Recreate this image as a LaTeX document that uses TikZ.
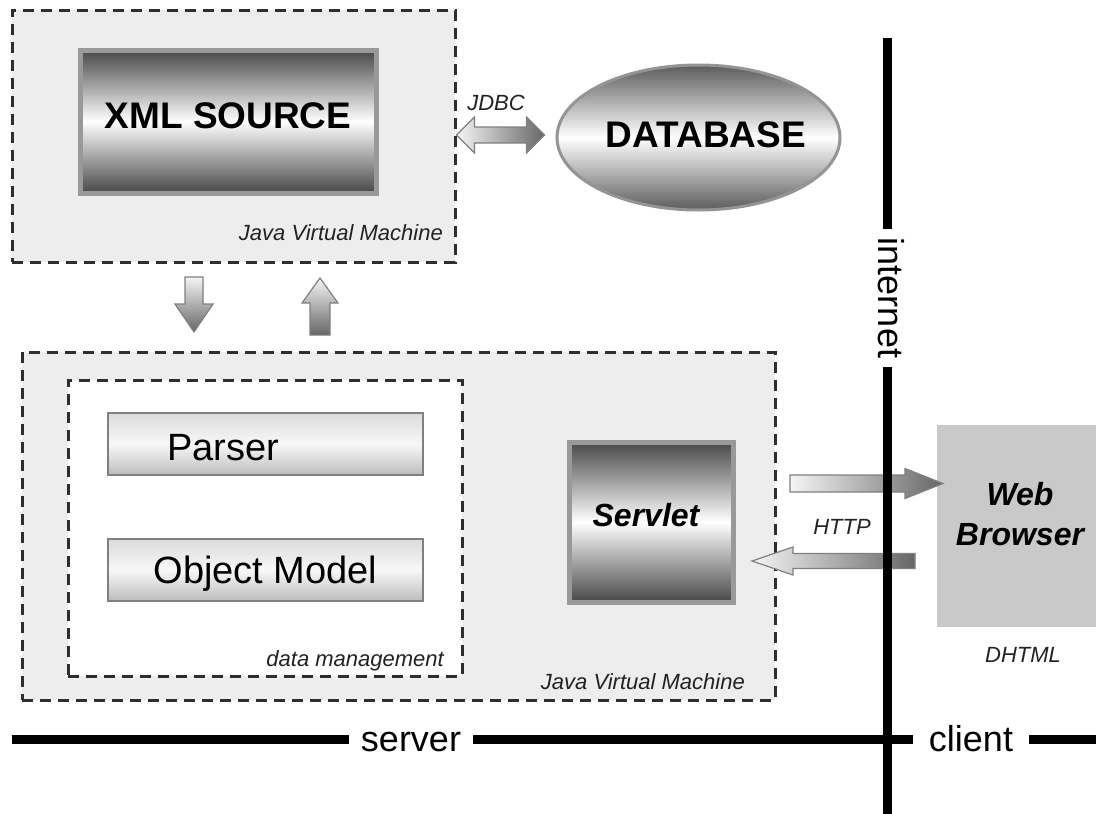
\documentclass[tikz,border=0pt]{standalone}
\usepackage{fontspec}
\setmainfont{Liberation Sans}
\usetikzlibrary{shapes.geometric,calc}

\definecolor{panel}{HTML}{EDEDED}
\definecolor{dashink}{HTML}{2E2E2E}
\definecolor{browsergray}{HTML}{C9C9C9}
\definecolor{labelink}{HTML}{222222}

\tikzset{
  jvmbox/.style={draw=dashink, line width=3pt, dash pattern=on 11pt off 7pt, fill=panel, inner sep=0pt},
  groupbox/.style={jvmbox, fill=white},
  chrome/.style={draw=black!40, line width=5pt, top color=black!72, bottom color=black!72, middle color=white, inner sep=0pt},
  bar/.style={draw=black!50, line width=1.5pt, top color=black!14, bottom color=black!26, middle color=black!3, inner sep=0pt, text depth=0pt, font=\fontsize{38}{44}\selectfont},
  dbshape/.style={ellipse, draw=black!42, line width=3pt, top color=black!64, bottom color=black!64, middle color=white, inner sep=0pt},
  bigbold/.style={font=\fontsize{37}{44}\selectfont\bfseries, inner sep=0pt},
  plainbig/.style={font=\fontsize{38}{44}\selectfont, inner sep=0pt},
  boldital/.style={font=\fontsize{32}{40}\selectfont\bfseries\itshape, inner sep=0pt},
  ital/.style={font=\fontsize{22}{26}\selectfont\itshape, text=labelink, inner sep=0pt},
  divider/.style={line width=9pt, black},
  gap/.style={fill=white, font=\fontsize{36}{42}\selectfont, inner ysep=2pt},
  blockarrow/.style={draw=black!50, line width=1.2pt, line join=miter},
  shadeLR/.style={left color=black!4, right color=black!60},
  shadeTB/.style={top color=black!4, bottom color=black!60},
  % horizontal block arrow: length, shaft half width, head half width, head length, look
  pics/hblock/.style n args={5}{code={
    \path[blockarrow,#5] (0,{-(#2)}) -- ({(#1)-(#4)},{-(#2)}) -- ({(#1)-(#4)},{-(#3)})
      -- (#1,0) -- ({(#1)-(#4)},{#3}) -- ({(#1)-(#4)},{#2}) -- (0,{#2}) -- cycle;}},
  % vertical block arrow (positive length points down)
  pics/vblock/.style n args={5}{code={
    \path[blockarrow,#5] ({-(#2)},0) -- ({-(#2)},{(#1)-(#4)}) -- ({-(#3)},{(#1)-(#4)})
      -- (0,#1) -- ({#3},{(#1)-(#4)}) -- ({#2},{(#1)-(#4)}) -- ({#2},0) -- cycle;}},
  % double-headed horizontal block arrow
  pics/dblock/.style n args={5}{code={
    \path[blockarrow,#5] (0,0) -- (#4,{-(#3)}) -- (#4,{-(#2)}) -- ({(#1)-(#4)},{-(#2)})
      -- ({(#1)-(#4)},{-(#3)}) -- (#1,0) -- ({(#1)-(#4)},{#3}) -- ({(#1)-(#4)},{#2})
      -- (#4,{#2}) -- (#4,{#3}) -- cycle;}}
}

\begin{document}
\begin{tikzpicture}[x=1pt,y=-1pt]
\useasboundingbox (0,0) rectangle (1096,814);
\fill[white] (0,0) rectangle (1096,814);

% ---- upper virtual machine with the XML source
\node[jvmbox, minimum width=443pt, minimum height=252pt] (jvmA) at (233.5,136) {};
\node[ital, anchor=base east] (jvmAlbl) at (443,240) {Java Virtual Machine};
\node[chrome, minimum width=296pt, minimum height=143pt] (xml) at (228,121.5) {};
\node[bigbold] (xmllbl) at (228,116) {XML SOURCE};

% ---- database reached over JDBC
\node[dbshape, minimum width=283pt, minimum height=145pt] (db) at (698.5,137.5) {};
\node[bigbold] (dblbl) at (706,135) {DATABASE};
\node[ital] (jdbclbl) at (496,103) {JDBC};
\coordinate (jdbcL) at (jvmA.east |- db.center);
\pic at ($(jdbcL)+(0,-2.5)$) {dblock={88}{8}{18}{18}{shadeLR}};

% ---- exchange between the two virtual machines
\coordinate (downTail) at (194,277);
\coordinate (upTail) at (320,335);
\pic at (downTail) {vblock={55}{9}{19}{28}{shadeTB}};
\pic at (upTail) {vblock={-57}{10}{18}{-25}{shadeTB}};

% ---- lower virtual machine
\node[jvmbox, minimum width=753pt, minimum height=348pt] (jvmB) at (398.5,526) {};
\node[ital, anchor=base east] (jvmBlbl) at (745,689) {Java Virtual Machine};
\node[groupbox, minimum width=394pt, minimum height=296pt] (mgmt) at (265,528) {};
\node[ital, anchor=base east] (mgmtlbl) at (444,666) {data management};
\node[bar, minimum width=315pt, minimum height=62pt] (parser) at (265.5,444) {};
\node[plainbig, anchor=base west] (parserlbl) at (167,460) {Parser};
\node[bar, text height=27pt, minimum width=315pt, minimum height=62pt] (objmodel) at (265.5,570) {Object Model};
\node[chrome, minimum width=164pt, minimum height=160pt] (servlet) at (651,522) {};
\node[boldital] (servletlbl) at (646,515) {Servlet};

% ---- client side
\node[fill=browsergray, inner sep=0pt, minimum width=166pt, minimum height=202pt] (browser) at (1020,526) {};
\node[boldital, align=center] (browserlbl) at (1020,514) {Web\\Browser};
\node[ital] (dhtml) at (1023,655) {DHTML};

% ---- HTTP request and response
\node[ital] (httplbl) at (842,527) {HTTP};
\coordinate (reqTail) at (790,483.5);
\coordinate (respTail) at (915,561);
\pic at (reqTail) {hblock={153}{8.5}{15}{38}{shadeLR}};
\pic at (respTail) {hblock={-163}{7.5}{14}{-41}{shadeLR}};

% ---- tier boundaries
\coordinate (inetTop) at (887,38);
\coordinate (inetBot) at (887,820);
\coordinate (tierL) at (12,739);
\coordinate (tierR) at (1100,739);
\draw[divider] (inetTop) -- (inetBot);
\draw[divider] (tierL) -- (tierR);
\node[gap, rotate=-90, anchor=base, inner xsep=9pt] (inetlbl) at (878,298) {internet};
\node[gap, anchor=base, inner xsep=12pt] (srvlbl) at (411,751) {server};
\node[gap, anchor=base, inner xsep=16pt] (clilbl) at (971,751) {client};
\end{tikzpicture}
\end{document}
